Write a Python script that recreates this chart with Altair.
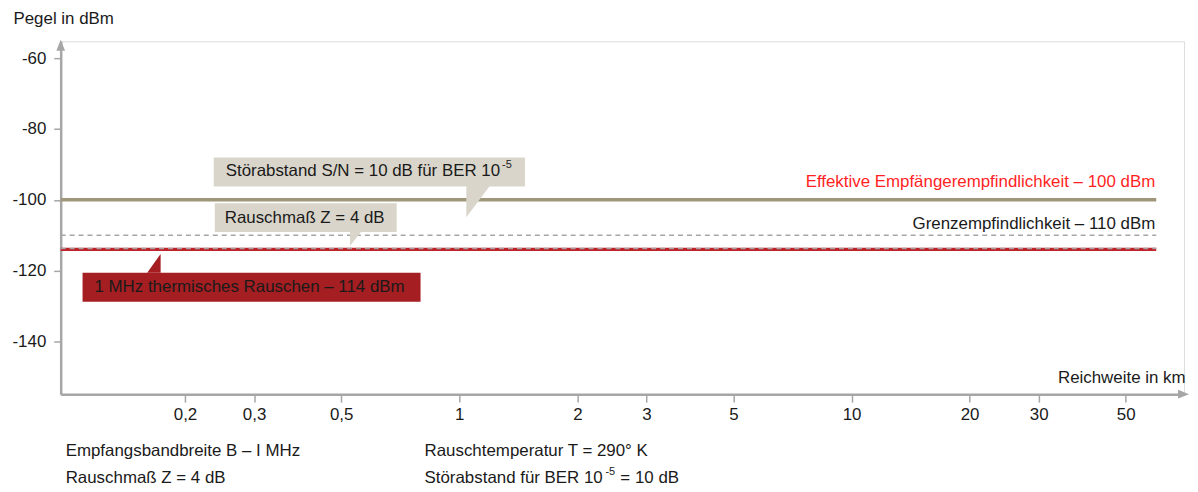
import altair as alt
import pandas as pd

# ---------------- data ----------------
level_names = ["Effektive Empfängerempfindlichkeit", "Grenzempfindlichkeit", "1 MHz thermisches Rauschen"]
level_dbm = [-100, -110, -114]
x_tick_values = [0.2, 0.3, 0.5, 1, 2, 3, 5, 10, 20, 30, 50]
x_tick_labels = ["0,2", "0,3", "0,5", "1", "2", "3", "5", "10", "20", "30", "50"]
y_tick_values = [-60, -80, -100, -120, -140]

callout_texts = ["Störabstand S/N = 10 dB für BER 10", "Rauschmaß Z = 4 dB",
                 "1 MHz thermisches Rauschen – 114 dBm"]
right_labels = ["Effektive Empfängerempfindlichkeit – 100 dBm", "Grenzempfindlichkeit – 110 dBm"]
footer_left = ["Empfangsbandbreite B – I MHz", "Rauschmaß Z = 4 dB"]
footer_right = ["Rauschtemperatur T = 290° K", "Störabstand für BER 10"]

# ---------------- layout / style ----------------
W, H = 1130, 355
X_DOMAIN = [0.0964, 70.4]
Y_DOMAIN = [-154.9, -55.2]
LINE_END_KM = 59.8
FONT = "Liberation Sans"
FS = 17
TXT = "#1a1a1a"
AXIS_GRAY = "#a6a6a6"
OLIVE = "#a0977a"
RED_LINE = "#c0222a"
BOX_GRAY = "#d9d5ca"
BOX_RED = "#a41e22"

xscale = alt.Scale(type="log", domain=X_DOMAIN, nice=False)
yscale = alt.Scale(domain=Y_DOMAIN, nice=False, zero=False)

label_expr = "''"
for v, lab in reversed(list(zip(x_tick_values, x_tick_labels))):
    label_expr = f"datum.value == {v} ? '{lab}' : ({label_expr})"

xaxis = alt.Axis(values=x_tick_values, labelExpr=label_expr, grid=False,
                 domainColor=AXIS_GRAY, domainWidth=2.5, tickColor=AXIS_GRAY, tickWidth=1.5,
                 tickSize=8, labelFont=FONT, labelFontSize=FS, labelColor=TXT, labelPadding=5,
                 labelFlush=False, labelOverlap=False,
                 title="Reichweite in km", titleFont=FONT, titleFontSize=FS, titleFontWeight="normal",
                 titleColor=TXT, titleAnchor="end", titleAlign="right", titleX=1131, titleY=-17,
                 titleBaseline="middle")
yaxis = alt.Axis(values=y_tick_values, labelExpr="toString(datum.value)", grid=False,
                 domainColor=AXIS_GRAY, domainWidth=2.5, tickColor=AXIS_GRAY, tickWidth=1.5,
                 tickSize=7, labelFont=FONT, labelFontSize=FS, labelColor=TXT, labelPadding=8,
                 title="Pegel in dBm", titleFont=FONT, titleFontSize=FS, titleFontWeight="normal",
                 titleColor=TXT, titleAngle=0, titleAlign="left", titleBaseline="middle",
                 titleX=-48, titleY=-23)

lines_df = pd.DataFrame({"name": level_names, "dbm": level_dbm,
                         "x0": X_DOMAIN[0], "x1": LINE_END_KM})

def level_rule(name, dy=0.0, **mark):
    return alt.Chart(lines_df).transform_filter(alt.datum.name == name).transform_calculate(
        ypos=f"datum.dbm + {dy}"
    ).mark_rule(**mark).encode(
        x=alt.X("x0:Q", scale=xscale, axis=xaxis),
        x2="x1:Q",
        y=alt.Y("ypos:Q", scale=yscale, axis=yaxis),
    )

rule_eff = level_rule(level_names[0], color=OLIVE, strokeWidth=3.5)
rule_grenz = level_rule(level_names[1], color=AXIS_GRAY, strokeWidth=1.6, strokeDash=[5, 4])
rule_noise = level_rule(level_names[2], color=RED_LINE, strokeWidth=3.5)
rule_noise_dash = level_rule(level_names[2], dy=0.25, color="#a8a0a0", strokeWidth=1.4,
                             strokeDash=[5, 4])

PX = lambda f: alt.X(f"{f}:Q", scale=None, axis=None)
PY = lambda f: alt.Y(f"{f}:Q", scale=None, axis=None)

# callout boxes (pixel frame of the plot area)
boxes_df = pd.DataFrame({
    "x0": [154, 155, 22], "x1": [467, 338, 362],
    "y0": [117, 163, 233], "y1": [146, 192, 262],
    "fill": [BOX_GRAY, BOX_GRAY, BOX_RED],
})
boxes = alt.Chart(boxes_df).mark_rect().encode(
    x=PX("x0"), x2="x1:Q", y=PY("y0"), y2="y1:Q",
    fill=alt.Fill("fill:N", scale=None))

pointer_dfs = [
    (pd.DataFrame({"px": [408, 432], "py": [177, 145], "py2": [145, 145]}), BOX_GRAY),
    (pd.DataFrame({"px": [291, 302], "py": [206, 192], "py2": [192, 192]}), BOX_GRAY),
    (pd.DataFrame({"px": [87, 100.5], "py": [233, 214], "py2": [233, 233]}), BOX_RED),
]
pointers = [alt.Chart(d).mark_area(color=c, opacity=1).encode(x=PX("px"), y=PY("py"), y2="py2:Q")
            for d, c in pointer_dfs]

def texts(df, align="left", **mark):
    return alt.Chart(df).mark_text(align=align, baseline="middle", font=FONT, **mark).encode(
        x=PX("px"), y=PY("py"), text="t:N")

callout_txt = texts(pd.DataFrame({"t": callout_texts, "px": [166, 165, 34], "py": [131, 178, 247]}),
                    fontSize=FS, color=TXT)
sup_df = pd.DataFrame({"t": ["-5", "-5"], "px": [444, 548], "py": [125, 433]})
sup_txt = texts(sup_df, fontSize=11, color=TXT)

right_red = texts(pd.DataFrame({"t": [right_labels[0]], "px": [1101], "py": [142]}),
                  align="right", fontSize=FS, color="#ff1f1f")
right_gray = texts(pd.DataFrame({"t": [right_labels[1]], "px": [1101], "py": [184]}),
                   align="right", fontSize=FS, color=TXT)

footer = texts(pd.DataFrame({
    "t": footer_left + footer_right + ["= 10 dB"],
    "px": [5, 5, 366, 366, 563],
    "py": [412, 439, 412, 439, 439]}), fontSize=FS, color=TXT)

arrow_df = pd.DataFrame({"px": [0, 1129.5], "py": [4, H], "kind": ["up", "right"]})
arrow_up = alt.Chart(arrow_df).transform_filter(alt.datum.kind == "up").mark_point(
    shape="M0,-1L0.8,1L-0.8,1Z", size=121, filled=True, color=AXIS_GRAY, opacity=1
).encode(x=PX("px"), y=PY("py"))
arrow_right = alt.Chart(arrow_df).transform_filter(alt.datum.kind == "right").mark_point(
    shape="M1,0L-1,-0.8L-1,0.8Z", size=121, filled=True, color=AXIS_GRAY, opacity=1
).encode(x=PX("px"), y=PY("py"))

chart = alt.layer(
    rule_eff, rule_grenz, rule_noise, rule_noise_dash,
    boxes, *pointers, callout_txt, sup_txt, right_red, right_gray, footer,
    arrow_up, arrow_right,
).properties(
    width=W, height=H,
    autosize=alt.AutoSizeParams(type="none"),
    padding={"left": 53, "top": 32, "right": 6, "bottom": 100},
).configure_view(stroke=None).configure(background="white")

chart.save("out.html", embed_options={"renderer": "svg", "actions": False})
